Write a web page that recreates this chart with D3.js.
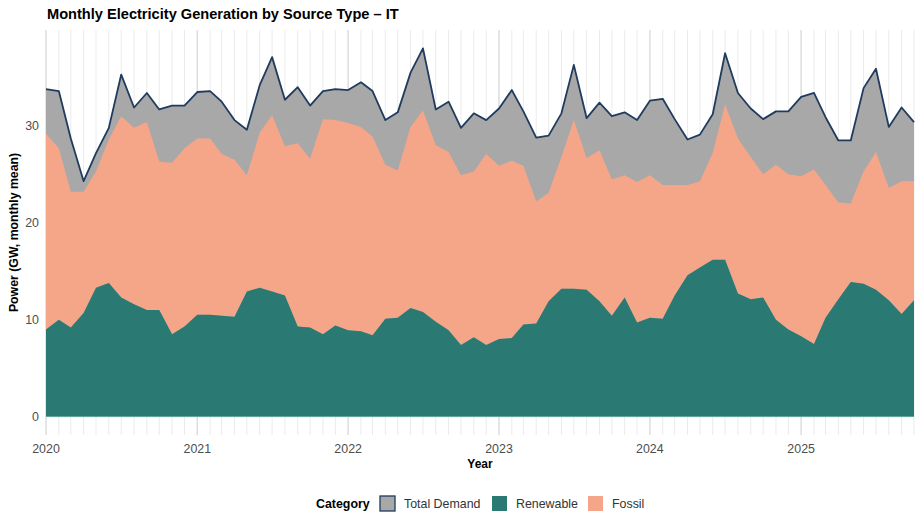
<!DOCTYPE html>
<html>
<head>
<meta charset="utf-8">
<script src="https://cdn.jsdelivr.net/npm/d3@7"></script>
<style>
  body { margin: 0; background: #fff; }
  svg text { font-family: "Liberation Sans", Arial, sans-serif; }
  .tick-label { fill: #4d4d4d; font-size: 12.4px; }
  .axis-title { fill: #000; font-size: 12.3px; font-weight: bold; }
</style>
</head>
<body>
<div id="wrapper"></div>
<script>
// 1. Data (GW, monthly mean), Jan 2020 .. Oct 2025
const months = d3.timeMonth.range(new Date(2020, 0, 1), new Date(2025, 10, 1))
const yearTicks = [2020, 2021, 2022, 2023, 2024, 2025]
const yTicks = [0, 10, 20, 30]
const categories = ["Total Demand", "Renewable", "Fossil"]

const totalDemand = [
  33.8, 33.6, 28.7, 24.3, 27.2, 29.8, 35.3, 31.9, 33.4, 31.7, 32.1, 32.1,
  33.5, 33.6, 32.5, 30.6, 29.6, 34.2, 37.1, 32.7, 34.0, 32.1, 33.6, 33.8,
  33.7, 34.5, 33.6, 30.6, 31.4, 35.5, 38.0, 31.7, 32.5, 29.8, 31.3, 30.6,
  31.8, 33.7, 31.5, 28.8, 29.0, 31.3, 36.3, 30.8, 32.4, 31.0, 31.4, 30.6,
  32.6, 32.8, 30.7, 28.6, 29.1, 31.2, 37.5, 33.4, 31.8, 30.7, 31.5, 31.5,
  33.0, 33.4, 30.9, 28.5, 28.5, 33.9, 35.9, 29.9, 31.9, 30.4
]
const renewable = [
  9.0, 10.0, 9.2, 10.7, 13.3, 13.8, 12.3, 11.6, 11.0, 11.0, 8.5, 9.3,
  10.5, 10.5, 10.4, 10.3, 12.9, 13.3, 12.9, 12.5, 9.3, 9.2, 8.5, 9.4,
  8.9, 8.8, 8.4, 10.1, 10.2, 11.2, 10.8, 9.8, 8.9, 7.4, 8.2, 7.4,
  8.0, 8.1, 9.5, 9.6, 11.9, 13.2, 13.2, 13.1, 11.9, 10.4, 12.3, 9.7,
  10.2, 10.1, 12.5, 14.6, 15.4, 16.2, 16.2, 12.7, 12.1, 12.3, 10.0, 9.0,
  8.3, 7.5, 10.2, 12.1, 13.9, 13.7, 13.1, 12.0, 10.6, 12.0
]
const fossil = [
  20.2, 17.7, 14.0, 12.5, 12.0, 14.8, 18.7, 18.2, 19.4, 15.3, 17.7, 18.4,
  18.2, 18.2, 16.7, 16.2, 12.0, 16.0, 18.2, 15.4, 18.9, 17.4, 22.2, 21.2,
  21.4, 21.1, 20.5, 15.9, 15.2, 18.7, 20.8, 18.2, 18.4, 17.5, 17.1, 19.7,
  17.9, 18.3, 16.4, 12.6, 11.2, 13.6, 17.4, 13.6, 15.6, 14.1, 12.6, 14.5,
  14.7, 13.8, 11.4, 9.3, 8.9, 11.0, 16.0, 16.0, 14.7, 12.7, 16.0, 16.0,
  16.5, 18.0, 13.7, 10.0, 8.1, 11.6, 14.2, 11.6, 13.7, 12.3
]

const dataset = months.map((m, i) => ({
  date: m,
  demand: totalDemand[i],
  renewable: renewable[i],
  fossil: fossil[i],
}))

// 2. Dimensions
const width = 923
const height = 528
const plot = { left: 46, right: 914, top: 30, bottom: 435 }

const colors = {
  "Total Demand": "#a8a8a8",
  "Renewable": "#2a7a73",
  "Fossil": "#f5a688",
}
const lineColor = "#1f3b5e"

// 3. Canvas
const svg = d3.select("#wrapper").append("svg")
    .attr("width", width)
    .attr("height", height)

// 4. Scales
const x = d3.scaleTime()
    .domain(d3.extent(dataset, d => d.date))
    .range([plot.left, plot.right])

const yMax = d3.max(dataset, d => Math.max(d.demand, d.renewable + d.fossil))
const pad = yMax * 0.05
const y = d3.scaleLinear()
    .domain([-pad, yMax + pad])
    .range([plot.bottom, plot.top])

// grid (vertical only)
const grid = svg.append("g")
grid.selectAll(".minor")
  .data(months)
  .join("line")
    .attr("x1", d => x(d)).attr("x2", d => x(d))
    .attr("y1", plot.top).attr("y2", plot.bottom)
    .attr("stroke", "#ebebeb")
    .attr("stroke-width", 1)
grid.selectAll(".major")
  .data(yearTicks)
  .join("line")
    .attr("x1", d => x(new Date(d, 0, 1))).attr("x2", d => x(new Date(d, 0, 1)))
    .attr("y1", plot.top).attr("y2", plot.bottom)
    .attr("stroke", "#dedede")
    .attr("stroke-width", 1.4)

// 5. Data
const demandArea = d3.area()
    .x(d => x(d.date))
    .y0(y(0))
    .y1(d => y(d.demand))
const fossilArea = d3.area()
    .x(d => x(d.date))
    .y0(d => y(d.renewable))
    .y1(d => y(d.renewable + d.fossil))
const renewableArea = d3.area()
    .x(d => x(d.date))
    .y0(y(0))
    .y1(d => y(d.renewable))
const demandLine = d3.line()
    .x(d => x(d.date))
    .y(d => y(d.demand))

svg.append("path").datum(dataset)
    .attr("d", demandArea)
    .attr("fill", colors["Total Demand"])
svg.append("path").datum(dataset)
    .attr("d", fossilArea)
    .attr("fill", colors["Fossil"])
svg.append("path").datum(dataset)
    .attr("d", renewableArea)
    .attr("fill", colors["Renewable"])
svg.append("line")
    .attr("x1", plot.left).attr("x2", plot.right)
    .attr("y1", y(0)).attr("y2", y(0))
    .attr("stroke", "#5fa49c").attr("stroke-width", 1)
svg.append("path").datum(dataset)
    .attr("d", demandLine)
    .attr("fill", "none")
    .attr("stroke", lineColor)
    .attr("stroke-width", 1.8)
    .attr("stroke-linejoin", "round")

// 6. Peripherals
svg.append("g").selectAll("text")
  .data(yTicks)
  .join("text")
    .attr("class", "tick-label")
    .attr("x", plot.left - 7)
    .attr("y", d => y(d) + 4.5)
    .attr("text-anchor", "end")
    .text(d => d)

svg.append("g").selectAll("text")
  .data(yearTicks)
  .join("text")
    .attr("class", "tick-label")
    .attr("x", d => x(new Date(d, 0, 1)))
    .attr("y", 453)
    .attr("text-anchor", "middle")
    .text(d => d)

svg.append("text")
    .attr("class", "axis-title")
    .attr("x", (plot.left + plot.right) / 2)
    .attr("y", 467.5)
    .attr("text-anchor", "middle")
    .style("font-size", "12px")
    .text("Year")

svg.append("text")
    .attr("class", "axis-title")
    .attr("transform", `translate(17.5, ${(plot.top + plot.bottom) / 2}) rotate(-90)`)
    .attr("text-anchor", "middle")
    .text("Power (GW, monthly mean)")

svg.append("text")
    .attr("x", 47)
    .attr("y", 19)
    .style("font-size", "14.6px")
    .style("font-weight", "bold")
    .text("Monthly Electricity Generation by Source Type \u2013 IT")

// legend
const legend = svg.append("g").attr("transform", "translate(316, 503.5)")
legend.append("text")
    .attr("x", 0).attr("y", 4.5)
    .style("font-size", "12.4px").style("font-weight", "bold")
    .text("Category")
const legendX = [64, 176, 272]
const items = legend.selectAll(".item")
  .data(categories)
  .join("g")
    .attr("transform", (d, i) => `translate(${legendX[i]}, 0)`)
items.append("rect")
    .attr("x", 0).attr("y", -7.5)
    .attr("width", 15).attr("height", 15)
    .attr("fill", d => colors[d])
    .attr("stroke", d => d === "Total Demand" ? lineColor : "none")
    .attr("stroke-width", 1.3)
items.append("text")
    .attr("class", "tick-label")
    .attr("x", 24).attr("y", 4.5)
    .style("fill", "#333")
    .text(d => d)
</script>
</body>
</html>
